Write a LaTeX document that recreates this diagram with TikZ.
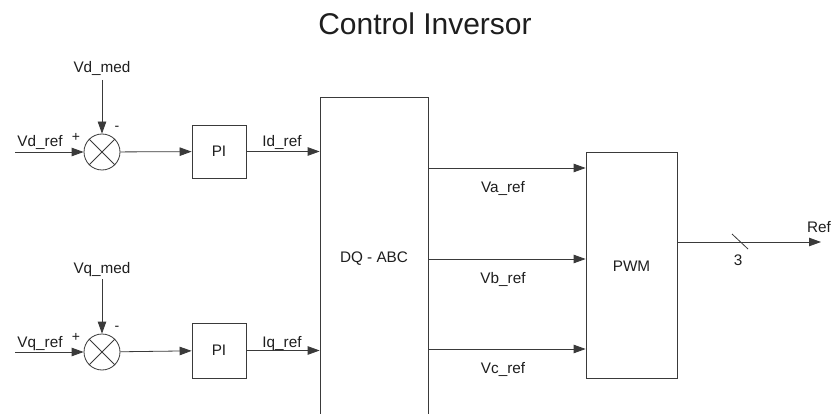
\documentclass[tikz,border=0pt]{standalone}
\usepackage{fontspec}
\setmainfont{Liberation Sans}
\usetikzlibrary{arrows.meta}
\definecolor{ln}{HTML}{3A3A3A}
\definecolor{tx}{HTML}{1E1E1E}
\begin{document}
\begin{tikzpicture}[x=1pt,y=-1pt,
  lbl/.style={text=tx,font=\fontsize{15.3}{18}\selectfont,inner sep=0pt,anchor=base},
  sgn/.style={text=tx,font=\fontsize{14}{16}\selectfont,inner sep=0pt},
  blk/.style={draw=ln,line width=0.8pt,fill=white,inner sep=0pt,text=tx,font=\fontsize{15.3}{18}\selectfont},
  sumnode/.style={draw=ln,line width=0.8pt,circle,minimum size=36pt,inner sep=0pt},
  arr/.style={draw=ln,line width=0.8pt,-{Triangle[length=12pt,width=8.5pt]}},
  wire/.style={draw=ln,line width=0.8pt}]
\useasboundingbox (0,0) rectangle (835,414);
\clip (0,0) rectangle (835,414);
\fill[white] (0,0) rectangle (835,414);

% title
\node[text=tx,font=\fontsize{30}{34}\selectfont,inner sep=0pt,anchor=base] (title) at (425,35) {Control Inversor};

% upper loop
\coordinate (in1) at (15,152);
\coordinate (med1) at (102,80);
\node[sumnode] (s1) at (102,152) {};
\draw[wire] (s1.45) -- (s1.225) (s1.135) -- (s1.-45);
\node[blk,minimum width=54pt,minimum height=53pt] (pi1) at (219,151.5) {PI};
\draw[arr] (in1) -- (s1);
\draw[arr] (med1) -- (s1);
\draw[arr] (s1) -- (pi1);

% lower loop
\coordinate (in2) at (15,352);
\coordinate (med2) at (102,279);
\node[sumnode] (s2) at (102,352) {};
\draw[wire] (s2.45) -- (s2.225) (s2.135) -- (s2.-45);
\node[blk,minimum width=54pt,minimum height=55pt] (pi2) at (219,350.5) {PI};
\draw[arr] (in2) -- (s2);
\draw[arr] (med2) -- (s2);
\draw[arr] (s2) -- (pi2);

% DQ-ABC block (continues past bottom edge)
\node[blk,minimum width=108pt,minimum height=333pt] (dq) at (374,263.5) {};
\node[lbl] (dqt) at (374,262) {DQ - ABC};
\draw[arr] (pi1) -- (pi1 -| dq.west);
\draw[arr] (pi2) -- (pi2 -| dq.west);

% PWM block
\node[blk,minimum width=91pt,minimum height=226pt] (pwm) at (631.5,265) {};
\node[lbl] (pwmt) at (631.5,271) {PWM};
\coordinate (a1) at (586,168);
\coordinate (a2) at (586,259);
\coordinate (a3) at (586,349);
\draw[arr] (dq.east |- a1) -- (pwm.west |- a1);
\draw[arr] (dq.east |- a2) -- (pwm.west |- a2);
\draw[arr] (dq.east |- a3) -- (pwm.west |- a3);

% output
\coordinate (out) at (821,242);
\coordinate (sl) at (740,241.5);
\draw[arr] (pwm.east |- out) -- (out);
\draw[wire] ([shift={(-8,-7.5)}]sl) -- ([shift={(8,7.5)}]sl);

% labels
\node[lbl] (lvdmed) at (102,73) {Vd\_med};
\node[lbl] (lvdref) at (40,147) {Vd\_ref};
\node[sgn] (p1) at (76,137) {+};
\node[sgn] (m1) at (117,128) {-};
\node[lbl] (lidref) at (282,147) {Id\_ref};

\node[lbl] (lvqmed) at (102,273) {Vq\_med};
\node[lbl] (lvqref) at (40,347) {Vq\_ref};
\node[sgn] (p2) at (76,337) {+};
\node[sgn] (m2) at (117,328) {-};
\node[lbl] (liqref) at (282,347) {Iq\_ref};

\node[lbl] (lva) at (503,193) {Va\_ref};
\node[lbl] (lvb) at (503,283) {Vb\_ref};
\node[lbl] (lvc) at (503,373) {Vc\_ref};

\node[lbl] (lthree) at (738,265) {3};
\node[lbl] (lref) at (819,233) {Ref};
\end{tikzpicture}
\end{document}
